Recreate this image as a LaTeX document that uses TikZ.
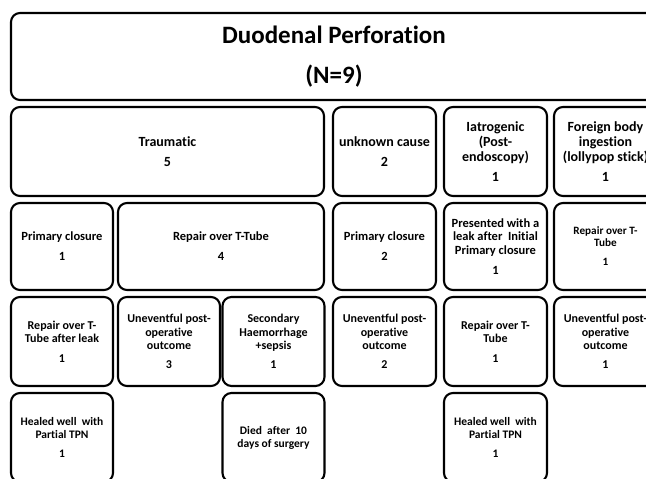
\documentclass[tikz,border=0pt]{standalone}
\usepackage{fontspec}
\setmainfont{Carlito}[Ligatures=NoCommon]
\begin{document}
\begin{tikzpicture}[x=1pt,y=-1pt,
  box/.style={draw=black, line width=2.1pt, rounded corners=9pt, align=center,
    inner sep=0pt, outer sep=0pt},
  titlebox/.style={box, font=\bfseries\fontsize{25}{30}\selectfont},
  rowtwo/.style={box, minimum height=89pt, font=\bfseries\fontsize{14}{15}\selectfont},
  rowthree/.style={box, minimum height=87pt, font=\bfseries\fontsize{12.5}{13.5}\selectfont},
  rowfour/.style={box, minimum height=89pt, font=\bfseries\fontsize{12}{13.3}\selectfont},
  rowfive/.style={box, minimum height=89pt, font=\bfseries\fontsize{11.5}{13}\selectfont}]
\useasboundingbox (0,0) rectangle (646,479);
\fill[white] (0,0) rectangle (646,479);
\clip (0,0) rectangle (646,479);
% title
\node[titlebox, minimum width=646pt, minimum height=87pt] (title) at (334,56.5)
  {Duodenal Perforation\\[10pt](N=9)};
% row 2
\node[rowtwo, minimum width=313pt] (trauma) at (167.5,151.5) {Traumatic\\[5pt]5};
\node[rowtwo, minimum width=103pt] (unknown) at (384.5,151.5) {unknown cause\\[5pt]2};
\node[rowtwo, minimum width=103pt] (iatro) at (495.5,151.5) {Iatrogenic\\(Post-\\endoscopy)\\[5pt]1};
\node[rowtwo, minimum width=103pt] (foreign) at (605.5,151.5) {Foreign body\\ingestion\\(lollypop stick)\\[5pt]1};
% row 3
\node[rowthree, minimum width=102pt] (pcA) at (62,246.5) {Primary closure\\[6.5pt]1};
\node[rowthree, minimum width=206pt] (repA) at (221,246.5) {Repair over T-Tube\\[6.5pt]4};
\node[rowthree, minimum width=103pt] (pcB) at (384.5,246.5) {Primary closure\\[6.5pt]2};
\node[rowthree, minimum width=103pt] (pres) at (495.5,246.5) {Presented with a\\leak after~ Initial\\Primary closure\\[6.5pt]1};
\node[rowthree, minimum width=103pt, font=\bfseries\fontsize{11.2}{12}\selectfont] (repB) at (605.5,246.5) {Repair over T-\\Tube\\[7pt]1};
% row 4
\node[rowfour, minimum width=102pt] (rleak) at (62,341.5) {Repair over T-\\Tube after leak\\[6pt]1};
\node[rowfour, minimum width=102pt] (unevA) at (169,341.5) {Uneventful post-\\operative\\outcome\\[6pt]3};
\node[rowfour, minimum width=102pt] (sec) at (273.5,341.5) {Secondary\\Haemorrhage\\+sepsis\\[6pt]1};
\node[rowfour, minimum width=103pt] (unevB) at (384.5,341.5) {Uneventful post-\\operative\\outcome\\[6pt]2};
\node[rowfour, minimum width=103pt] (repC) at (495.5,341.5) {Repair over T-\\Tube\\[6pt]1};
\node[rowfour, minimum width=103pt] (unevC) at (605.5,341.5) {Uneventful post-\\operative\\outcome\\[6pt]1};
% row 5
\node[rowfive, minimum width=102pt] (healA) at (62,437.5) {Healed well~ with\\Partial TPN\\[6pt]1};
\node[rowfive, minimum width=102pt] (died) at (273.5,437.5) {Died~ after~ 10\\days of surgery};
\node[rowfive, minimum width=103pt] (healB) at (495.5,437.5) {Healed well~ with\\Partial TPN\\[6pt]1};
\end{tikzpicture}
\end{document}
